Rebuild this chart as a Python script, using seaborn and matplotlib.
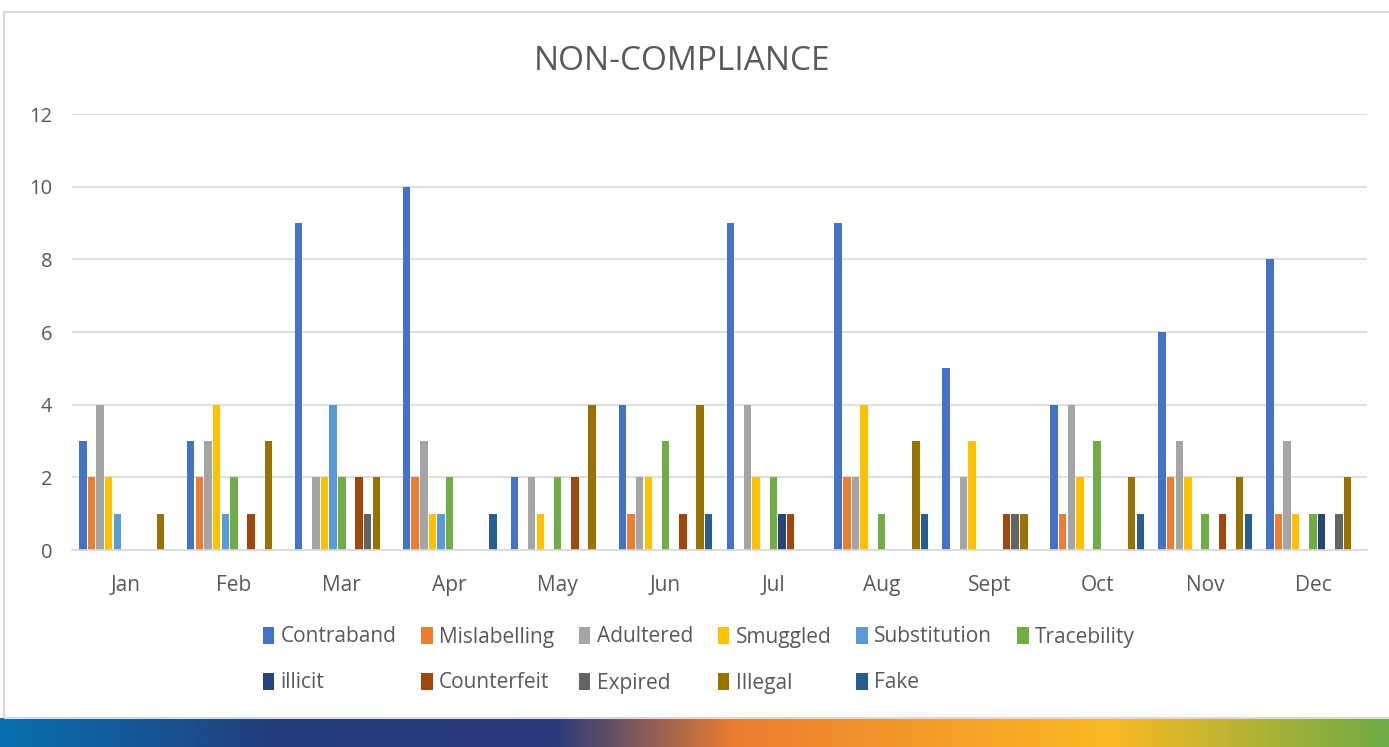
import numpy as np
import pandas as pd
import seaborn as sns
import matplotlib.pyplot as plt
from matplotlib.colors import LinearSegmentedColormap
from matplotlib.patches import Rectangle

months = ['Jan', 'Feb', 'Mar', 'Apr', 'May', 'Jun', 'Jul', 'Aug', 'Sept', 'Oct', 'Nov', 'Dec']
categories = ['Contraband', 'Mislabelling', 'Adultered', 'Smuggled', 'Substitution', 'Tracebility',
              'illicit', 'Counterfeit', 'Expired', 'Illegal', 'Fake']

# values per category, one per month
contraband   = [3, 3, 9, 10, 2, 4, 9, 9, 5, 4, 6, 8]
mislabelling = [2, 2, 0, 2, 0, 1, 0, 2, 0, 1, 2, 1]
adultered    = [4, 3, 2, 3, 2, 2, 4, 2, 2, 4, 3, 3]
smuggled     = [2, 4, 2, 1, 1, 2, 2, 4, 3, 2, 2, 1]
substitution = [1, 1, 4, 1, 0, 0, 0, 0, 0, 0, 0, 0]
tracebility  = [0, 2, 2, 2, 2, 3, 2, 1, 0, 3, 1, 1]
illicit      = [0, 0, 0, 0, 0, 0, 1, 0, 0, 0, 0, 1]
counterfeit  = [0, 1, 2, 0, 2, 1, 1, 0, 1, 0, 1, 0]
expired      = [0, 0, 1, 0, 0, 0, 0, 0, 1, 0, 0, 1]
illegal      = [1, 3, 2, 0, 4, 4, 0, 3, 1, 2, 2, 2]
fake         = [0, 0, 0, 1, 0, 1, 0, 1, 0, 1, 1, 0]

colors = ['#4472C4', '#ED7D31', '#A5A5A5', '#FFC000', '#5B9BD5', '#70AD47',
          '#264478', '#9E480E', '#636363', '#997300', '#255E91']

series = [contraband, mislabelling, adultered, smuggled, substitution, tracebility,
          illicit, counterfeit, expired, illegal, fake]
rows = []
for cat, vals in zip(categories, series):
    for m, v in zip(months, vals):
        rows.append({'Month': m, 'Category': cat, 'Count': v})
df = pd.DataFrame(rows)

sns.set_theme(style='white')
plt.rcParams['font.family'] = ['Open Sans', 'DejaVu Sans']
text_col = '#595959'

fig = plt.figure(figsize=(13.89, 7.47), dpi=100)

# outer frame and bottom band
fig.patches.append(Rectangle((4 / 1389, 29 / 747), 1.0, 706 / 747, transform=fig.transFigure,
                             fill=False, edgecolor='#D9D9D9', linewidth=1.5))
band = fig.add_axes([0, 0, 1, 29 / 747])
cmap = LinearSegmentedColormap.from_list('band', [
    (0.0, '#0A6FAF'), (0.2, '#233C7C'), (0.4, '#2B3A7A'), (0.53, '#ED7D31'),
    (0.8, '#FBBA22'), (1.0, '#6FAC46')])
band.imshow(np.linspace(0, 1, 512).reshape(1, -1), aspect='auto', cmap=cmap)
band.axis('off')

ax = fig.add_axes([72 / 1389, 1 - 550 / 747, 1295 / 1389, 436 / 747])
sns.barplot(data=df, x='Month', y='Count', hue='Category', order=months,
            hue_order=categories, palette=colors, width=0.88, gap=0.14,
            saturation=1, linewidth=0, ax=ax, legend=True)

ax.set_ylim(0, 12)
ax.set_yticks(range(0, 13, 2))
ax.yaxis.grid(True, color='#D9D9D9', linewidth=1.2)
ax.set_axisbelow(True)
for s in ['top', 'right', 'left']:
    ax.spines[s].set_visible(False)
ax.spines['bottom'].set_color('#D9D9D9')
ax.spines['bottom'].set_linewidth(1.2)
ax.tick_params(axis='both', length=0, colors=text_col)
ax.tick_params(axis='y', pad=14, labelsize=14.5)
ax.tick_params(axis='x', pad=18, labelsize=15)
ax.set_xlabel('')
ax.set_ylabel('')
fig.text(0.491, 1 - 62 / 747, 'NON-COMPLIANCE', ha='center', va='center',
         fontsize=24, color=text_col)

# legend: row-major order for a 6-column layout
handles, labels = ax.get_legend_handles_labels()
ax.get_legend().remove()
order = [0, 6, 1, 7, 2, 8, 3, 9, 4, 10, 5]
leg = fig.legend([handles[i] for i in order], [labels[i] for i in order],
                 ncol=6, loc='center', bbox_to_anchor=(0.503, 1 - 660 / 747),
                 frameon=False, fontsize=15, handlelength=0.55, handleheight=0.9,
                 handletextpad=0.3, columnspacing=1.2, labelspacing=1.2)
for t in leg.get_texts():
    t.set_color(text_col)

fig.savefig('out.png', dpi=100)
